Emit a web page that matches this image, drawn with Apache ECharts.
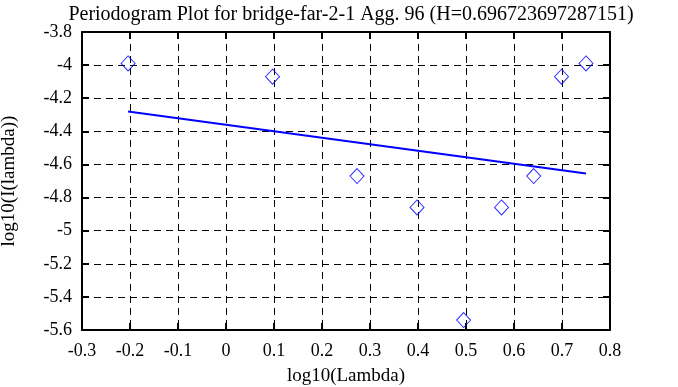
<!DOCTYPE html>
<html><head><meta charset="utf-8">
<script src="https://cdn.jsdelivr.net/npm/echarts@6/dist/echarts.min.js"></script>
<style>html,body{margin:0;padding:0;background:#fff}#c{width:678px;height:387px}</style>
</head><body><div id="c"></div>
<script>
const titleText = 'Periodogram Plot for bridge-far-2-1 Agg. 96 (H=0.696723697287151)';
const logLambda = [-0.204, 0.097, 0.273, 0.398, 0.495, 0.574, 0.641, 0.699, 0.750];
const logI = [-3.99, -4.07, -4.67, -4.86, -5.54, -4.86, -4.67, -4.07, -3.99];
const fitX = [-0.204, 0.750];
const fitY = [-4.28, -4.655];
const xTicks = {min: -0.3, max: 0.8, interval: 0.1};
const yTicks = {min: -5.6, max: -3.8, interval: 0.2};

const font = 'Liberation Serif';
const chart = echarts.init(document.getElementById('c'), null, {renderer: 'canvas'});
const fmt = v => { const r = Math.round(v * 10) / 10; return String(r); };
const baseAxis = {
  axisLine: {show: true, onZero: false, lineStyle: {color: '#000', width: 2}},
  axisTick: {show: true, inside: true, length: 7, lineStyle: {color: '#000', width: 2}},
};
const dash = {color: '#000', type: [7, 5], width: 1};
chart.setOption({
  animation: false,
  backgroundColor: '#fff',
  title: {text: titleText, left: 346, textAlign: 'center', top: 0,
    textStyle: {fontFamily: font, fontSize: 20, fontWeight: 'normal', color: '#000'}},
  grid: {left: 82, right: 68, top: 32, bottom: 57, containLabel: false, outerBoundsMode: 'none'},
  xAxis: [
    Object.assign({type: 'value', position: 'bottom', min: xTicks.min, max: xTicks.max, interval: xTicks.interval,
      name: 'log10(Lambda)', nameLocation: 'middle', nameGap: 37,
      nameTextStyle: {fontFamily: font, fontSize: 19, color: '#000'},
      axisLabel: {fontFamily: font, fontSize: 18, color: '#000', margin: 12, formatter: fmt},
      splitLine: {show: true, lineStyle: dash}}, baseAxis),
    Object.assign({type: 'value', position: 'top', min: xTicks.min, max: xTicks.max, interval: xTicks.interval,
      axisLabel: {show: false}, splitLine: {show: false}}, baseAxis)
  ],
  yAxis: [
    Object.assign({type: 'value', position: 'left', min: yTicks.min, max: yTicks.max, interval: yTicks.interval,
      name: 'log10(I(lambda))', nameLocation: 'middle', nameGap: 63, nameRotate: 90,
      nameTextStyle: {fontFamily: font, fontSize: 19, color: '#000'},
      axisLabel: {fontFamily: font, fontSize: 18, color: '#000', margin: 10, formatter: fmt},
      splitLine: {show: true, lineStyle: dash}}, baseAxis),
    Object.assign({type: 'value', position: 'right', min: yTicks.min, max: yTicks.max, interval: yTicks.interval,
      axisLabel: {show: false}, splitLine: {show: false}}, baseAxis)
  ],
  series: [
    {type: 'line', data: fitX.map((x, i) => [x, fitY[i]]), showSymbol: false, symbol: 'none',
      lineStyle: {color: '#0000ff', width: 2}, z: 3},
    {type: 'scatter', data: logLambda.map((x, i) => [x, logI[i]]), symbol: 'diamond', symbolSize: [14, 15],
      itemStyle: {color: 'rgba(0,0,0,0)', borderColor: '#0000ff', borderWidth: 1}, z: 4}
  ]
});
</script></body></html>
